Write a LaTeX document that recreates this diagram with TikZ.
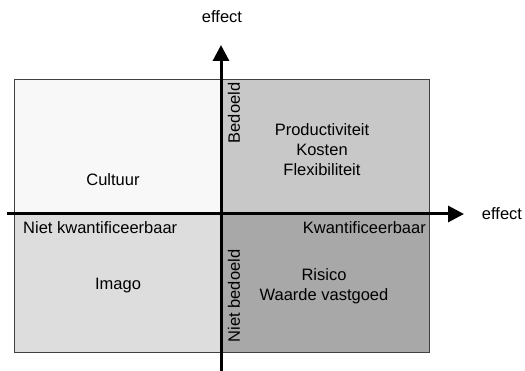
\documentclass[tikz,border=0pt]{standalone}
\usepackage{fontspec}
\setmainfont{Liberation Sans}
\usetikzlibrary{arrows.meta}
\definecolor{qtl}{HTML}{F8F8F8}
\definecolor{qtr}{HTML}{C8C8C8}
\definecolor{qbl}{HTML}{DDDDDD}
\definecolor{qbr}{HTML}{A8A8A8}
\definecolor{edge}{HTML}{404040}
\begin{document}
\begin{tikzpicture}[x=1pt,y=-1pt,
  txt/.style={font=\fontsize{16.5}{20}\selectfont, inner sep=0pt, align=center},
  axis/.style={line width=3pt, -{Triangle[length=16pt,width=16pt]}},
  quad/.style={draw=edge, line width=0.8pt}]
\useasboundingbox (0,0) rectangle (525,371);
% quadrants
\filldraw[quad, fill=qtl] (14,79) rectangle (221,214);
\filldraw[quad, fill=qtr] (221,79) rectangle (429,214);
\filldraw[quad, fill=qbl] (14,214) rectangle (221,352);
\filldraw[quad, fill=qbr] (221,214) rectangle (429,352);
% axes
\coordinate (vbot) at (221,371);
\coordinate (vtop) at (221,45);
\coordinate (hl) at (7,214);
\coordinate (hr) at (464,214);
\draw[axis] (vbot) -- (vtop);
\draw[axis] (hl) -- (hr);
% labels
\node[txt] (ey) at (222,17) {effect};
\node[txt] (ex) at (502,214) {effect};
\node[txt] (cult) at (113,180) {Cultuur};
\node[txt] (prod) at (322,150) {Productiviteit\\Kosten\\Flexibiliteit};
\node[txt, anchor=west] (nk) at (23,228) {Niet kwantificeerbaar};
\node[txt, anchor=east] (kw) at (426,228) {Kwantificeerbaar};
\node[txt] (imago) at (118,286) {Imago};
\node[txt] (ris) at (324,286) {Risico\\Waarde vastgoed};
\node[txt, rotate=90] (bed) at (234,113) {Bedoeld};
\node[txt, rotate=90] (nbed) at (234,296) {Niet bedoeld};
\end{tikzpicture}
\end{document}
